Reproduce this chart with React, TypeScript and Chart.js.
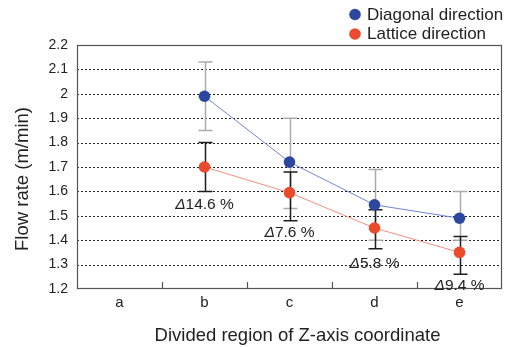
import React, { useEffect, useRef } from "react";
import { Chart, registerables } from "chart.js";

Chart.register(...registerables);

const categories = ["a", "b", "c", "d", "e"];
const diagonal = [null, 1.99, 1.72, 1.545, 1.49];
const diagonalHigh = [null, 2.13, 1.9, 1.69, 1.6];
const diagonalLow = [null, 1.85, 1.53, 1.4, 1.4];
const lattice = [null, 1.7, 1.595, 1.45, 1.35];
const latticeHigh = [null, 1.8, 1.68, 1.525, 1.415];
const latticeLow = [null, 1.6, 1.48, 1.365, 1.26];
const deltaLabels = [null, "14.6 %", "7.6 %", "5.8 %", "9.4 %"];
const deltaY = [null, 1.545, 1.43, 1.305, 1.215];

const FONT = "'Liberation Sans', Arial, Helvetica, sans-serif";
const BLUE = "#2c479f";
const RED = "#ec4a2c";

const customPlugin = {
  id: "custom",
  beforeDatasetsDraw(chart: any) {
    const { ctx, chartArea: ca } = chart;
    const x = chart.scales.x;
    const y = chart.scales.y;
    ctx.save();
    // dotted grid lines
    ctx.strokeStyle = "#222";
    ctx.lineWidth = 1;
    ctx.setLineDash([2, 2]);
    y.ticks.forEach((t: any) => {
      const py = Math.round(y.getPixelForValue(t.value)) + 0.5;
      if (py <= ca.top + 1 || py >= ca.bottom - 1) return;
      ctx.beginPath();
      ctx.moveTo(ca.left, py);
      ctx.lineTo(ca.right, py);
      ctx.stroke();
    });
    ctx.setLineDash([]);
    // box
    ctx.strokeStyle = "#555";
    ctx.lineWidth = 1.2;
    ctx.strokeRect(ca.left + 0.5, ca.top + 0.5, ca.right - ca.left - 1, ca.bottom - ca.top - 1);
    // inner ticks at category boundaries
    ctx.strokeStyle = "#555";
    for (let i = 1; i < categories.length; i++) {
      const px = Math.round((x.getPixelForValue(i - 1) + x.getPixelForValue(i)) / 2) + 0.5;
      ctx.beginPath();
      ctx.moveTo(px, ca.bottom);
      ctx.lineTo(px, ca.bottom - 7);
      ctx.stroke();
    }
    // error bars
    const drawBars = (hi: any[], lo: any[], color: string) => {
      ctx.strokeStyle = color;
      ctx.lineWidth = 1.5;
      for (let i = 0; i < categories.length; i++) {
        if (hi[i] == null || lo[i] == null) continue;
        const px = Math.round(x.getPixelForValue(i)) + 0.5;
        const ph = y.getPixelForValue(hi[i]);
        const pl = y.getPixelForValue(lo[i]);
        ctx.beginPath();
        ctx.moveTo(px, ph);
        ctx.lineTo(px, pl);
        ctx.moveTo(px - 7, ph);
        ctx.lineTo(px + 7, ph);
        ctx.moveTo(px - 7, pl);
        ctx.lineTo(px + 7, pl);
        ctx.stroke();
      }
    };
    drawBars(diagonalHigh, diagonalLow, "#ababab");
    drawBars(latticeHigh, latticeLow, "#1e1e1e");
    ctx.restore();
  },
  afterDatasetsDraw(chart: any) {
    const { ctx } = chart;
    const x = chart.scales.x;
    const y = chart.scales.y;
    ctx.save();
    ctx.fillStyle = "#222";
    ctx.textBaseline = "middle";
    for (let i = 0; i < categories.length; i++) {
      if (!deltaLabels[i]) continue;
      const cx = x.getPixelForValue(i);
      const cy = y.getPixelForValue(deltaY[i] as number);
      const italic = "italic 15.5px " + FONT;
      const normal = "15.5px " + FONT;
      ctx.font = italic;
      const w1 = ctx.measureText("\u0394").width;
      ctx.font = normal;
      const w2 = ctx.measureText(deltaLabels[i] as string).width;
      const start = cx - (w1 + w2) / 2;
      ctx.textAlign = "left";
      ctx.font = italic;
      ctx.fillText("\u0394", start, cy);
      ctx.font = normal;
      ctx.fillText(deltaLabels[i] as string, start + w1, cy);
    }
    ctx.restore();
  },
  afterDraw(chart: any) {
    const { ctx, chartArea: ca } = chart;
    ctx.save();
    ctx.fillStyle = "#222";
    // y title
    ctx.font = "18.5px " + FONT;
    ctx.textAlign = "center";
    ctx.textBaseline = "middle";
    ctx.translate(23, 179);
    ctx.rotate(-Math.PI / 2);
    ctx.fillText("Flow rate (m/min)", 0, 0);
    ctx.setTransform(1, 0, 0, 1, 0, 0);
    // x title
    ctx.fillText("Divided region of Z-axis coordinate", (ca.left + ca.right) / 2 + 8, 336);
    // legend
    const items = chart.data.datasets;
    ctx.font = "17px " + FONT;
    ctx.textAlign = "left";
    items.forEach((ds: any, k: number) => {
      const cy = 14.5 + k * 19.5;
      ctx.fillStyle = ds.pointBackgroundColor;
      ctx.beginPath();
      ctx.arc(355, cy, 5.8, 0, Math.PI * 2);
      ctx.fill();
      ctx.fillStyle = "#222";
      ctx.fillText(ds.label, 367, cy + 0.5);
    });
    ctx.restore();
  },
};

export default function App() {
  const ref = useRef<HTMLCanvasElement>(null);
  useEffect(() => {
    if (!ref.current) return;
    const chart = new Chart(ref.current, {
      type: "line",
      data: {
        labels: categories,
        datasets: [
          {
            label: "Diagonal direction",
            data: diagonal,
            borderColor: "#6f86d6",
            borderWidth: 1,
            pointBackgroundColor: BLUE,
            pointBorderWidth: 0,
            pointRadius: 5.8,
            pointHoverRadius: 5.8,
          },
          {
            label: "Lattice direction",
            data: lattice,
            borderColor: "#f4907e",
            borderWidth: 1,
            pointBackgroundColor: RED,
            pointBorderWidth: 0,
            pointRadius: 5.8,
            pointHoverRadius: 5.8,
          },
        ],
      },
      options: {
        responsive: false,
        animation: false,
        layout: { padding: { top: 45, right: 8, left: 0, bottom: 0 } },
        plugins: { legend: { display: false }, tooltip: { enabled: false }, title: { display: false } },
        scales: {
          x: {
            offset: true,
            grid: { display: false, drawTicks: false },
            border: { display: false },
            ticks: { color: "#222", font: { family: FONT, size: 15 }, padding: 5 },
            afterFit: (s: any) => {
              s.height = 58;
            },
          },
          y: {
            min: 1.2,
            max: 2.2,
            grid: { display: false, drawTicks: false },
            border: { display: false },
            ticks: {
              stepSize: 0.1,
              color: "#222",
              font: { family: FONT, size: 14 },
              padding: 9,
              callback: (v: any) => String(parseFloat(Number(v).toFixed(1))),
            },
            afterFit: (s: any) => {
              s.width = 77;
            },
          },
        },
      },
      plugins: [customPlugin],
    });
    return () => chart.destroy();
  }, []);
  return (
    <div style={{ position: "absolute", left: 0, top: 0, width: 510, height: 347 }}>
      <canvas ref={ref} width={510} height={347} />
    </div>
  );
}
